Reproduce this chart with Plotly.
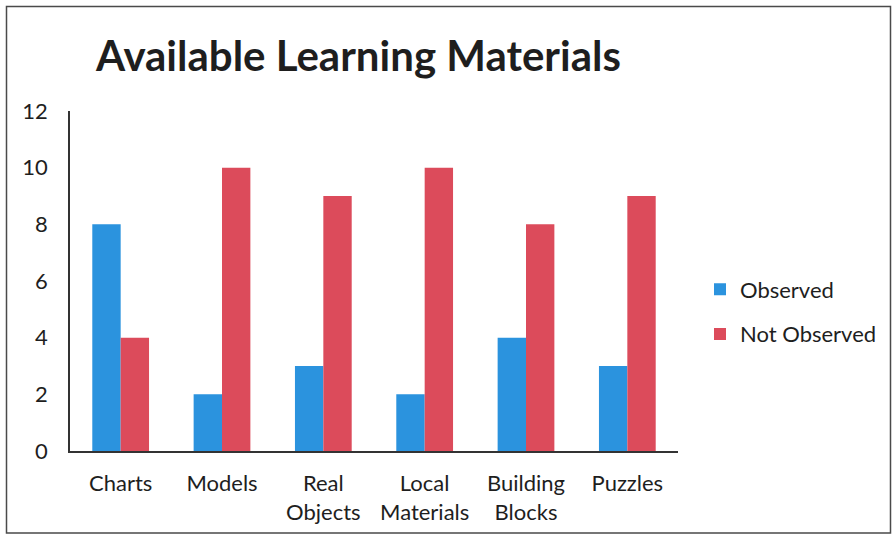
import plotly.graph_objects as go

categories = ["Charts", "Models", "Real<br>Objects", "Local<br>Materials", "Building<br>Blocks", "Puzzles"]
observed = [8, 2, 3, 2, 4, 3]
not_observed = [4, 10, 9, 10, 8, 9]
y_ticks = [0, 2, 4, 6, 8, 10, 12]

BLUE = "#2B93DE"
RED = "#DC4B5B"
INK = "#1E1E1E"
FONT = "Lato"

W, H = 892, 539
L, R, T, B = 70, 214, 111, 88
pw, ph = W - L - R, H - T - B


def px_x(x):
    return (x - L) / pw


def px_y(y):
    return (H - B - y) / ph


fig = go.Figure()
fig.add_trace(go.Bar(x=categories, y=observed, name="Observed",
                     marker=dict(color=BLUE, line=dict(width=0)),
                     legendgroup="a"))
fig.add_trace(go.Bar(x=categories, y=not_observed, name="Not Observed",
                     marker=dict(color=RED, line=dict(width=0)),
                     legendgroup="b"))

# outer frame of the chart
fig.add_shape(type="rect", xref="paper", yref="paper",
              x0=px_x(6.5), x1=px_x(890.5), y0=px_y(533), y1=px_y(6.5),
              line=dict(color="#4A4A4A", width=1.5), fillcolor="rgba(0,0,0,0)")

fig.update_layout(
    width=W, height=H,
    margin=dict(l=L, r=R, t=T, b=B, autoexpand=False),
    paper_bgcolor="white", plot_bgcolor="white",
    font=dict(family=FONT, size=22, color=INK),
    barmode="group", bargap=0.44, bargroupgap=0,
    title=dict(text="<b>Available Learning Materials</b>",
               font=dict(family=FONT, size=42, color=INK),
               x=96 / W, xanchor="left", xref="container",
               y=1 - 56 / H, yanchor="middle", yref="container"),
    legend=dict(x=px_x(700), xanchor="left", y=px_y(312), yanchor="middle",
                font=dict(family=FONT, size=22, color=INK),
                tracegroupgap=13, bgcolor="rgba(0,0,0,0)"),
    xaxis=dict(showline=True, linecolor="#333", linewidth=1.5,
               ticks="", showgrid=False, ticklabelstandoff=12,
               tickfont=dict(family=FONT, size=22, color=INK)),
    yaxis=dict(range=[0, 12], tickvals=y_ticks, showline=True,
               linecolor="#333", linewidth=1.5, showgrid=False,
               zeroline=False, ticks="", ticklabelstandoff=16,
               tickfont=dict(family=FONT, size=22, color=INK)),
)

fig.write_html("out.html")
